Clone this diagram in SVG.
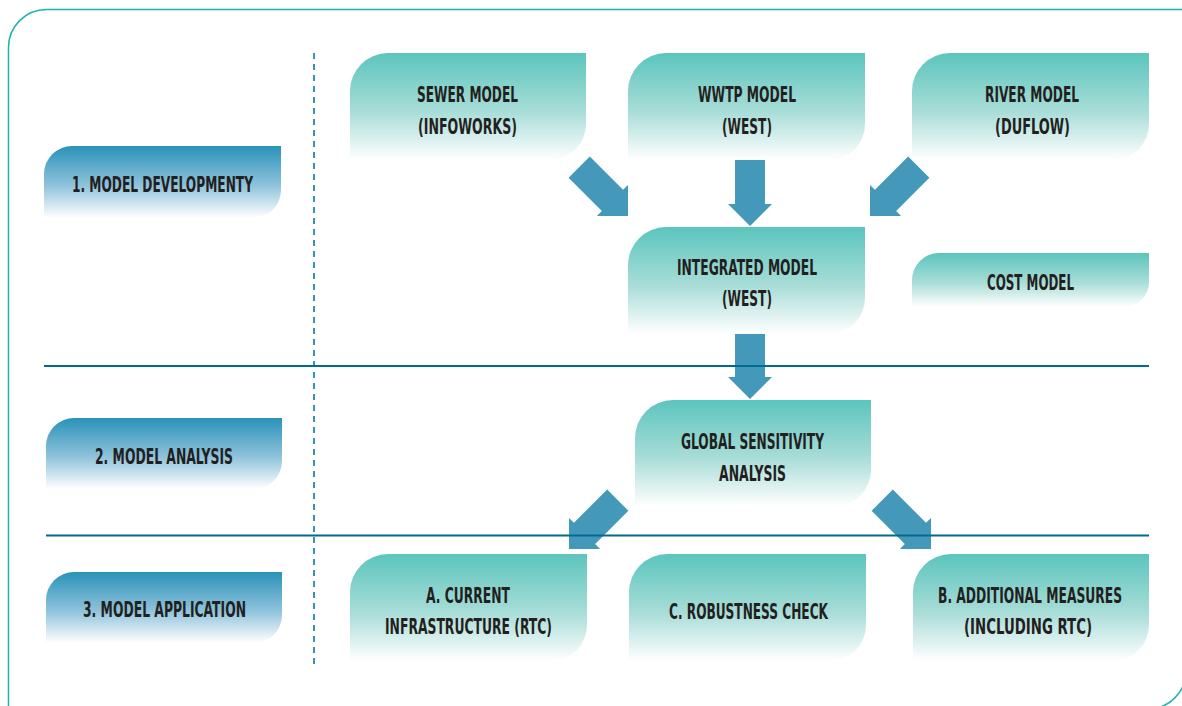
<svg xmlns="http://www.w3.org/2000/svg" width="1182" height="706" viewBox="0 0 1182 706">
<defs>
<linearGradient id="gTeal" x1="0" y1="0" x2="0" y2="1">
<stop offset="0" stop-color="#5bc5bd"/>
<stop offset="0.55" stop-color="#a9ddd8"/>
<stop offset="1" stop-color="#ffffff"/>
</linearGradient>
<linearGradient id="gBlue" x1="0" y1="0" x2="0" y2="1">
<stop offset="0" stop-color="#2a92b8"/>
<stop offset="0.55" stop-color="#8fc3dc"/>
<stop offset="1" stop-color="#ffffff"/>
</linearGradient>
<path id="arw" d="M -15,-69 H 15 V -22 H 22 L 0,0 L -22,-22 H -15 Z"/>
</defs>
<style>
.t{font-family:"Liberation Sans Narrow","DejaVu Sans Condensed","Liberation Sans",sans-serif;font-weight:bold;font-size:21px;fill:#231f20}
.box{fill:url(#gTeal)}
.stage{fill:url(#gBlue)}
.arrow{fill:#4499bb}
.sep{stroke:#006b8f;stroke-width:2;fill:none}
</style>
<rect width="1182" height="706" fill="#ffffff"/>
<path id="frame" d="M 8.5,47.5 A 38 38 0 0 1 46.5,9.5 H 1186 V 671 A 38 38 0 0 1 1148,709 H 8.5 Z" fill="none" stroke="#1cb4ab" stroke-width="1.5"/>
<line x1="314" y1="53" x2="314" y2="666" stroke="#3a92b3" stroke-width="2" stroke-dasharray="6 5"/>

<g id="connectors">
<use href="#arw" class="arrow" transform="translate(750,226)"/>
<use href="#arw" class="arrow" transform="translate(750,399)"/>
<use href="#arw" class="arrow" transform="translate(628,216) rotate(-45)"/>
<use href="#arw" class="arrow" transform="translate(870,216) rotate(45)"/>
<use href="#arw" class="arrow" transform="translate(569,549) rotate(45)"/>
<use href="#arw" class="arrow" transform="translate(931,549) rotate(-45)"/>
</g>

<g id="separators">
<line class="sep" x1="44" y1="366" x2="1149" y2="366"/>
<line class="sep" x1="46" y1="535.5" x2="1149" y2="535.5"/>
</g>

<g id="stage1">
<path class="stage" d="M 44,174 A 28 28 0 0 1 72,146 H 281 V 190 A 28 28 0 0 1 253,218 H 44 Z"/>
<text class="t" x="72" y="192" textLength="181" lengthAdjust="spacingAndGlyphs">1. MODEL DEVELOPMENTY</text>
</g>
<g id="stage2">
<path class="stage" d="M 46,446 A 28 28 0 0 1 74,418 H 282 V 461 A 28 28 0 0 1 254,489 H 46 Z"/>
<text class="t" x="95" y="464" textLength="138" lengthAdjust="spacingAndGlyphs">2. MODEL ANALYSIS</text>
</g>
<g id="stage3">
<path class="stage" d="M 46,600 A 28 28 0 0 1 74,572 H 282 V 615 A 28 28 0 0 1 254,643 H 46 Z"/>
<text class="t" x="83" y="617" textLength="163" lengthAdjust="spacingAndGlyphs">3. MODEL APPLICATION</text>
</g>

<g id="sewer">
<path class="box" d="M 350,91 A 38 38 0 0 1 388,53 H 586 V 124 A 36 36 0 0 1 550,160 H 350 Z"/>
<text class="t" x="417" y="102" textLength="101" lengthAdjust="spacingAndGlyphs">SEWER MODEL</text>
<text class="t" x="418" y="134" textLength="99" lengthAdjust="spacingAndGlyphs">(INFOWORKS)</text>
</g>
<g id="wwtp">
<path class="box" d="M 628,91 A 38 38 0 0 1 666,53 H 865 V 124 A 36 36 0 0 1 829,160 H 628 Z"/>
<text class="t" x="698" y="102" textLength="98" lengthAdjust="spacingAndGlyphs">WWTP MODEL</text>
<text class="t" x="722" y="134" textLength="50" lengthAdjust="spacingAndGlyphs">(WEST)</text>
</g>
<g id="river">
<path class="box" d="M 912,91 A 38 38 0 0 1 950,53 H 1149 V 124 A 36 36 0 0 1 1113,160 H 912 Z"/>
<text class="t" x="985" y="102" textLength="94" lengthAdjust="spacingAndGlyphs">RIVER MODEL</text>
<text class="t" x="995" y="134" textLength="75" lengthAdjust="spacingAndGlyphs">(DUFLOW)</text>
</g>
<g id="integrated">
<path class="box" d="M 628,265 A 38 38 0 0 1 666,227 H 865 V 298 A 36 36 0 0 1 829,334 H 628 Z"/>
<text class="t" x="677" y="275" textLength="140" lengthAdjust="spacingAndGlyphs">INTEGRATED MODEL</text>
<text class="t" x="722" y="306" textLength="50" lengthAdjust="spacingAndGlyphs">(WEST)</text>
</g>
<g id="cost">
<path class="box" d="M 912,280 A 27 27 0 0 1 939,253 H 1149 V 282 A 25 25 0 0 1 1124,307 H 912 Z"/>
<text class="t" x="987" y="290" textLength="87" lengthAdjust="spacingAndGlyphs">COST MODEL</text>
</g>
<g id="global">
<path class="box" d="M 635,438 A 38 38 0 0 1 673,400 H 871 V 470 A 36 36 0 0 1 835,506 H 635 Z"/>
<text class="t" x="681" y="449" textLength="143" lengthAdjust="spacingAndGlyphs">GLOBAL SENSITIVITY</text>
<text class="t" x="719" y="481" textLength="67" lengthAdjust="spacingAndGlyphs">ANALYSIS</text>
</g>
<g id="current">
<path class="box" d="M 350,592 A 38 38 0 0 1 388,554 H 587 V 625 A 36 36 0 0 1 551,661 H 350 Z"/>
<text class="t" x="426" y="603" textLength="84" lengthAdjust="spacingAndGlyphs">A. CURRENT</text>
<text class="t" x="385" y="634" textLength="167" lengthAdjust="spacingAndGlyphs">INFRASTRUCTURE (RTC)</text>
</g>
<g id="robustness">
<path class="box" d="M 629,592 A 38 38 0 0 1 667,554 H 866 V 625 A 36 36 0 0 1 830,661 H 629 Z"/>
<text class="t" x="669" y="619" textLength="159" lengthAdjust="spacingAndGlyphs">C. ROBUSTNESS CHECK</text>
</g>
<g id="additional">
<path class="box" d="M 913,592 A 38 38 0 0 1 951,554 H 1149 V 625 A 36 36 0 0 1 1113,661 H 913 Z"/>
<text class="t" x="938" y="603" textLength="184" lengthAdjust="spacingAndGlyphs">B. ADDITIONAL MEASURES</text>
<text class="t" x="964" y="634" textLength="128" lengthAdjust="spacingAndGlyphs">(INCLUDING RTC)</text>
</g>
</svg>
